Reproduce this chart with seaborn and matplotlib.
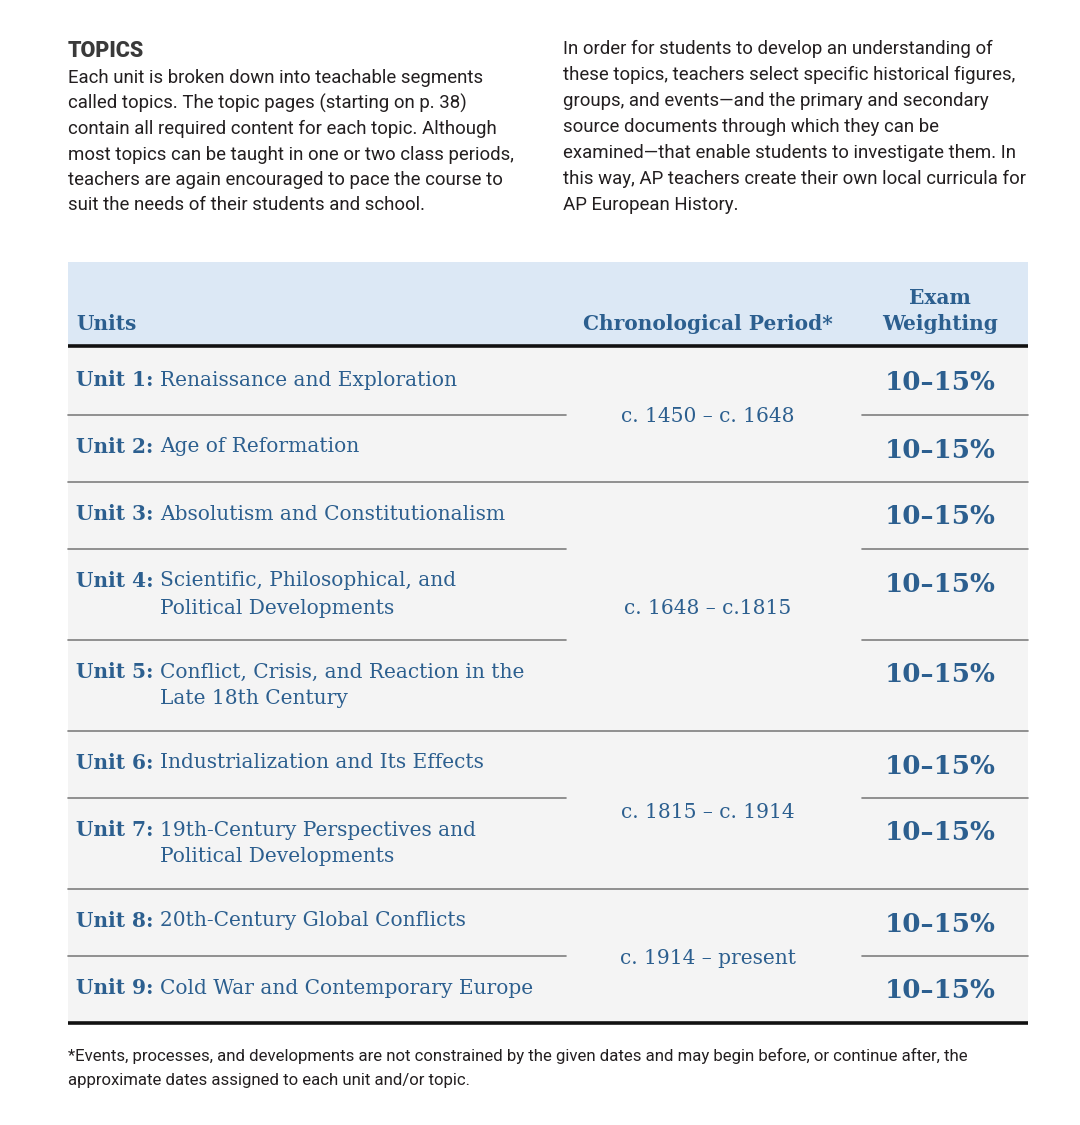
#!/usr/bin/env python3
"""
AP European History: units, chronological periods and exam weighting table.
"""
import matplotlib
matplotlib.use("Agg")
import matplotlib.pyplot as plt
import seaborn as sns

# --- data -------------------------------------------------------------------
unit_labels = [f"Unit {i}:" for i in range(1, 10)]
unit_titles = [
    "Renaissance and Exploration",
    "Age of Reformation",
    "Absolutism and Constitutionalism",
    "Scientific, Philosophical, and\nPolitical Developments",
    "Conflict, Crisis, and Reaction in the\nLate 18th Century",
    "Industrialization and Its Effects",
    "19th-Century Perspectives and\nPolitical Developments",
    "20th-Century Global Conflicts",
    "Cold War and Contemporary Europe",
]
weights = ["10–15%"] * 9
periods = ["c. 1450 – c. 1648", "c. 1648 – c.1815", "c. 1815 – c. 1914", "c. 1914 – present"]
units_per_period = [2, 3, 2, 2]
headers = ["Units", "Chronological Period*", "Exam\nWeighting"]

topics_title = "TOPICS"
topics_left = [
    "Each unit is broken down into teachable segments",
    "called topics. The topic pages (starting on p. 38)",
    "contain all required content for each topic. Although",
    "most topics can be taught in one or two class periods,",
    "teachers are again encouraged to pace the course to",
    "suit the needs of their students and school.",
]
topics_right = [
    "In order for students to develop an understanding of",
    "these topics, teachers select specific historical figures,",
    "groups, and events—and the primary and secondary",
    "source documents through which they can be",
    "examined—that enable students to investigate them. In",
    "this way, AP teachers create their own local curricula for",
    "AP European History.",
]
footnote = [
    "*Events, processes, and developments are not constrained by the given dates and may begin before, or continue after, the",
    "approximate dates assigned to each unit and/or topic.",
]

# --- style --------------------------------------------------------------------
sns.set_theme(style="white")
plt.rcParams["font.family"] = ["Roboto", "DejaVu Sans"]
BLUE = "#2c5f8f"
INK = "#231f20"
SLAB = ["DejaVu Serif"]
HEADER_BG = "#dce8f5"
ROW_BG = "#f4f4f4"
RULE = "#7f7f7f"
FS_SLAB = 14.5

X0, X1 = 68, 1028          # table extent
XPERIOD, XWEIGHT = 708, 940
GAP_L, GAP_R = 566, 862    # period column gap in inner rules

fig = plt.figure(figsize=(10.8, 11.25), dpi=100)
ax = fig.add_axes([0, 0, 1, 1])
ax.set_xlim(0, 1080)
ax.set_ylim(1125, 0)
ax.axis("off")

# --- intro text ---------------------------------------------------------------
ax.text(68, 51, topics_title, fontsize=15.5, fontweight="heavy", color="#3a3a3a",
        va="center", ha="left")
for i, line in enumerate(topics_left):
    ax.text(68, 78 + i * 25.5, line, fontsize=13.4, color=INK, va="center", ha="left")
for i, line in enumerate(topics_right):
    ax.text(563, 49 + i * 26, line, fontsize=13.4, color=INK, va="center", ha="left")

# --- header -----------------------------------------------------------------
TOP, HEAD_BOTTOM = 262, 346
ax.fill_between([X0, X1], TOP, HEAD_BOTTOM, color=HEADER_BG, lw=0)
ax.text(76, 324, headers[0], fontsize=FS_SLAB, fontweight="bold", family=SLAB, color=BLUE,
        va="center", ha="left")
ax.text(XPERIOD, 324, headers[1], fontsize=FS_SLAB, fontweight="bold", family=SLAB, color=BLUE,
        va="center", ha="center")
ax.text(XWEIGHT, 311, headers[2], fontsize=FS_SLAB, fontweight="bold", family=SLAB, color=BLUE,
        va="center", ha="center", linespacing=1.42)

# --- rows -------------------------------------------------------------------
n_lines = [t.count("\n") + 1 for t in unit_titles]
heights = [67 + 24 * (n - 1) for n in n_lines]
tops = [HEAD_BOTTOM + 2]
for h in heights[:-1]:
    tops.append(tops[-1] + h)
bottom = tops[-1] + heights[-1]

ax.fill_between([X0, X1], tops[0], bottom, color=ROW_BG, lw=0)

# group boundaries
group_end = []
acc = 0
for n in units_per_period:
    acc += n
    group_end.append(acc)

for i, (lab, title, w) in enumerate(zip(unit_labels, unit_titles, weights)):
    top = tops[i]
    first, *rest = title.split("\n")
    ax.text(76, top + 32, lab, fontsize=FS_SLAB, fontweight="bold", family=SLAB,
            color=BLUE, va="center", ha="left")
    ax.text(160, top + 32, first, fontsize=FS_SLAB, family=SLAB, color=BLUE,
            va="center", ha="left")
    for k, extra in enumerate(rest, start=1):
        ax.text(160, top + 32 + 27 * k, extra, fontsize=FS_SLAB, family=SLAB, color=BLUE,
                va="center", ha="left")
    ax.text(XWEIGHT, top + 35, w, fontsize=18.8, fontweight="bold", family=SLAB,
            color=BLUE, va="center", ha="center")
    # rule below row
    y = top + heights[i]
    if i + 1 == len(unit_titles):
        continue
    if (i + 1) in group_end:
        ax.plot([X0, X1], [y, y], color=RULE, lw=1.2)
    else:
        ax.plot([X0, GAP_L], [y, y], color=RULE, lw=1.2)
        ax.plot([GAP_R, X1], [y, y], color=RULE, lw=1.2)

# periods centred on their group of units
start = 0
for p, n in zip(periods, units_per_period):
    y0 = tops[start]
    y1 = tops[start + n - 1] + heights[start + n - 1]
    ax.text(XPERIOD, (y0 + y1) / 2 + 2, p, fontsize=FS_SLAB, family=SLAB, color=BLUE,
            va="center", ha="center")
    start += n

# heavy rules
ax.plot([X0, X1], [HEAD_BOTTOM, HEAD_BOTTOM], color="#111111", lw=2.6, solid_capstyle="butt")
ax.plot([X0, X1], [bottom, bottom], color="#111111", lw=2.6, solid_capstyle="butt")

# --- footnote -----------------------------------------------------------------
for i, line in enumerate(footnote):
    ax.text(68, bottom + 33 + i * 24.5, line, fontsize=12.1, color=INK,
            va="center", ha="left")

fig.savefig("out.png", dpi=100)
